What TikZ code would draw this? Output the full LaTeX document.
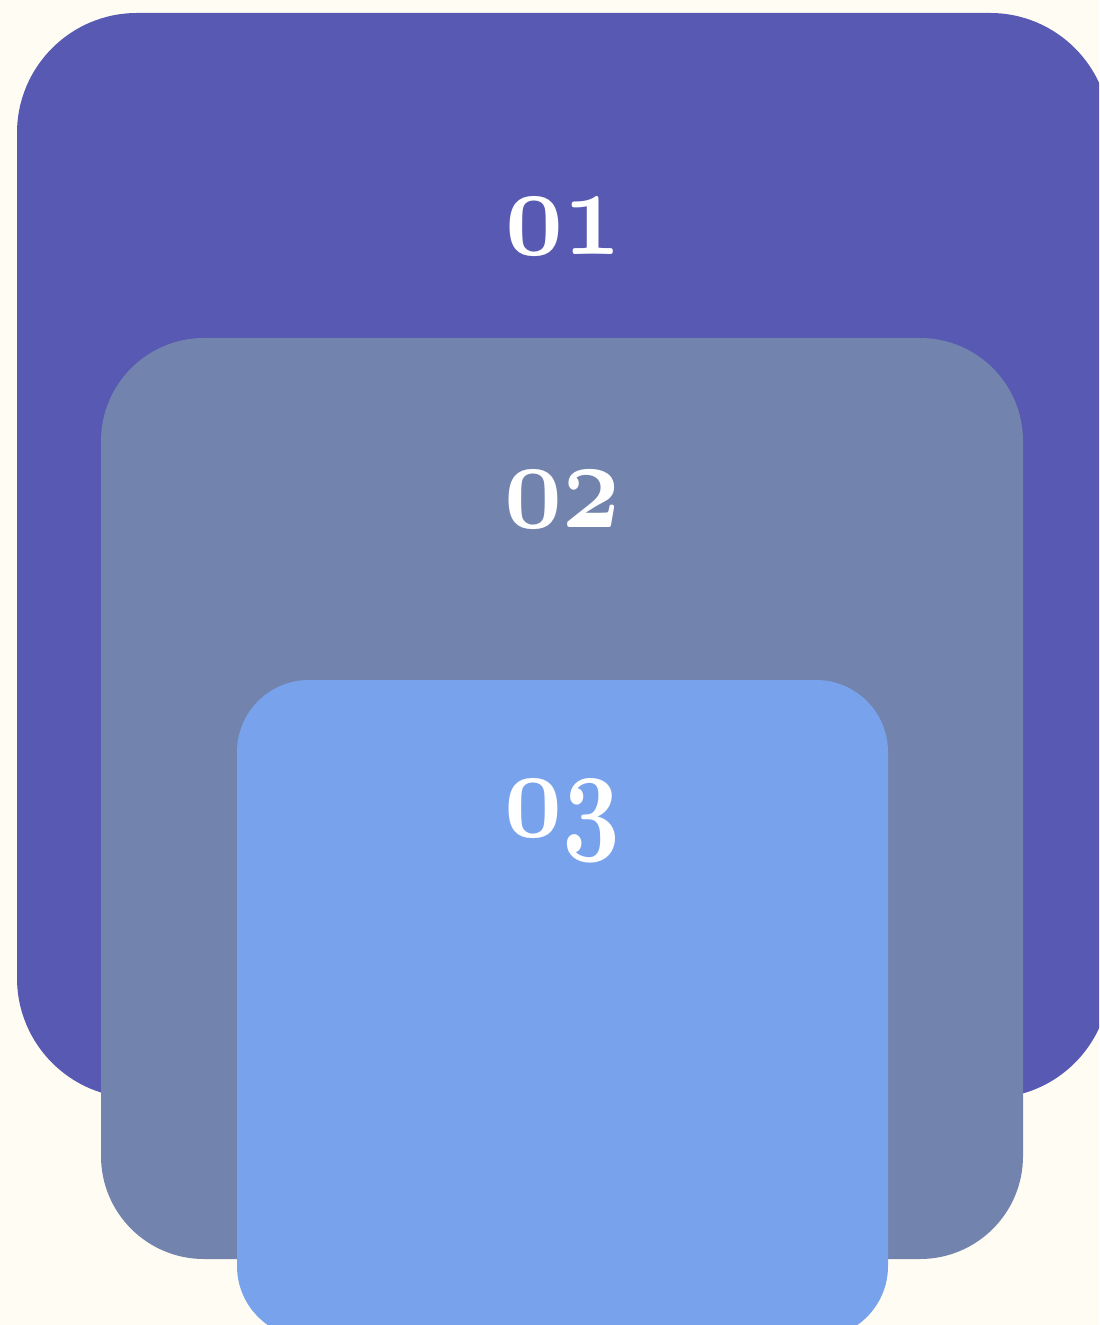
\documentclass[tikz,border=0pt]{standalone}
\usepackage{fix-cm}
\definecolor{bgc}{HTML}{FFFCF3}
\definecolor{cone}{HTML}{5759B2}
\definecolor{ctwo}{HTML}{7283AE}
\definecolor{cthree}{HTML}{78A3EC}
\begin{document}
\begin{tikzpicture}[x=0.5pt,y=-0.5pt,
  panel/.style={draw=none},
  lbl/.style={text=white,font=\fontsize{63}{63}\selectfont\boldmath,anchor=base,inner sep=0pt,xscale=0.8}]
\useasboundingbox (0,0) rectangle (1099,1325);
\fill[bgc] (0,0) rectangle (1099,1325);
\begin{scope}
\clip (0,0) rectangle (1099,1325);
\fill[cone,panel,rounded corners=60pt] (17,13) rectangle (1110,1098);
\fill[ctwo,panel,rounded corners=51.5pt] (101,338) rectangle (1023,1259);
\fill[cthree,panel,rounded corners=36pt] (237,680) rectangle (888,1338);
\end{scope}
\node[lbl] (l1) at (563,255) {$\mathnormal{01}$};
\node[lbl] (l2) at (562,527) {$\mathnormal{02}$};
\node[lbl] (l3) at (562,836) {$\mathnormal{03}$};
\end{tikzpicture}
\end{document}
